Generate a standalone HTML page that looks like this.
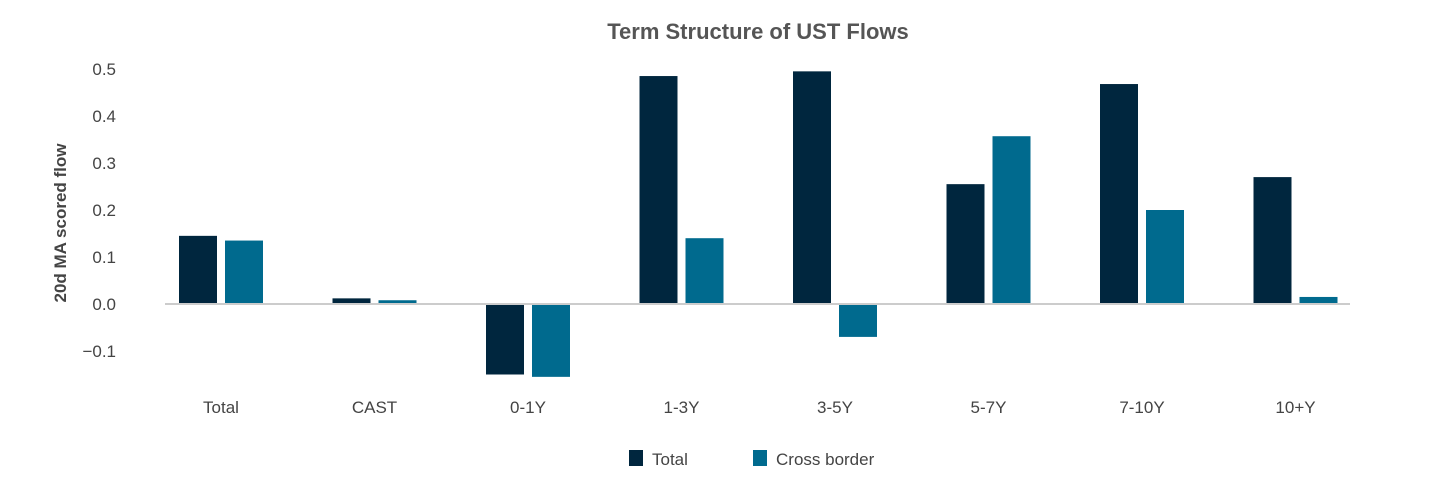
<!DOCTYPE html>
<html><head><meta charset="utf-8"><style>
body{margin:0;background:#fff;width:1430px;height:477px;overflow:hidden;font-family:"Liberation Sans",sans-serif}
</style></head><body>
<svg width="1430" height="477" id="c">
<text x="758" y="39" text-anchor="middle" font-size="22" font-weight="bold" fill="#555">Term Structure of UST Flows</text>
<text transform="translate(66,223) rotate(-90)" text-anchor="middle" font-size="17" font-weight="bold" fill="#444">20d MA scored flow</text>
<g id="yt"></g><g id="bars"></g><g id="xt"></g>
<line x1="165" x2="1350" y1="304" y2="304" stroke="#ccc" stroke-width="2"/>
<g>
<rect x="629" y="450" width="14" height="16" fill="#00263e"/>
<text x="652" y="465" font-size="17" fill="#444">Total</text>
<rect x="753" y="450" width="14" height="16" fill="#006a8e"/>
<text x="776" y="465" font-size="17" fill="#444">Cross border</text>
</g>
</svg>
<script>
const categories=["Total","CAST","0-1Y","1-3Y","3-5Y","5-7Y","7-10Y","10+Y"];
const totalValues=[0.145,0.012,-0.15,0.485,0.495,0.255,0.468,0.27];
const crossValues=[0.135,0.008,-0.155,0.14,-0.07,0.357,0.2,0.015];
const yTicks=[0.5,0.4,0.3,0.2,0.1,0.0,-0.1];
const ns="http://www.w3.org/2000/svg";
const y=v=>304-v*470;
const xc=i=>221+i*153.5;
const yt=document.getElementById('yt'),bars=document.getElementById('bars'),xt=document.getElementById('xt');
yTicks.forEach(t=>{const e=document.createElementNS(ns,'text');


e.setAttribute('x',116);e.setAttribute('y',y(t)+6);e.setAttribute('text-anchor','end');e.setAttribute('font-size','17');e.setAttribute('fill','#444');
e.textContent=t<0?'\u2212'+Math.abs(t).toFixed(1):t.toFixed(1);yt.appendChild(e);});
function bar(v,x,col,name){const r=document.createElementNS(ns,'rect');


r.setAttribute('x',x);r.setAttribute('width',38);r.setAttribute('y',Math.min(y(v),y(0)));r.setAttribute('height',Math.abs(y(v)-y(0)));r.setAttribute('fill',col);bars.appendChild(r);}
categories.forEach((c,i)=>{
bar(totalValues[i],xc(i)-42,'#00263e','bar-total-'+c);
bar(crossValues[i],xc(i)+4,'#006a8e','bar-cross-border-'+c);
const e=document.createElementNS(ns,'text');


e.setAttribute('x',xc(i));e.setAttribute('y',413);e.setAttribute('text-anchor','middle');e.setAttribute('font-size','17');e.setAttribute('fill','#444');
e.textContent=c;xt.appendChild(e);});
</script>
</body></html>
